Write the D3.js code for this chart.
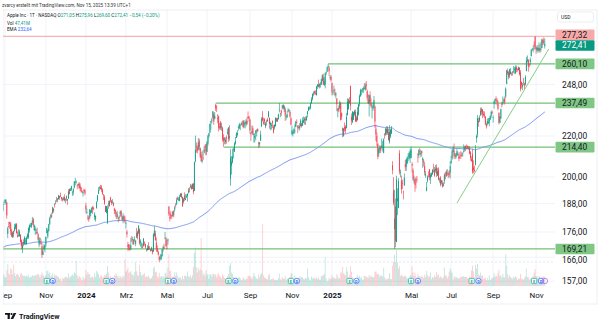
<!DOCTYPE html>
<html><head><meta charset="utf-8">
<script src="https://cdn.jsdelivr.net/npm/d3@7/dist/d3.min.js"></script>
<style>body{margin:0;background:#fff}svg{display:block}text{font-family:Roboto,"Noto Sans",sans-serif}</style>
</head><body><svg id="c" width="600" height="328"></svg>
<script>
// Daily rows per month: [open, high, low, close, volume (M)]
const m2023_08 = [[180.1,180.6,178.5,180.2,43],[179.7,184.9,179.5,184.1,53],[184.9,187.9,184.7,187.7,60],[187.8,189.1,187.5,187.9,60]];
const m2023_09 = [[189.5,189.9,188.3,189.5,45],[188.3,189.98,187.6,189.7,45],[188.4,188.85,181.5,182.9,81],[175.2,178.2,173.5,177.6,112],[178.4,180.2,177.8,178.2,65],[180.1,180.3,177.3,179.4,58],[179.5,180.1,174.8,176.3,90],[176.5,177.3,173.98,174.2,84],[174.0,176.1,173.6,175.7,60],[176.5,176.5,173.8,175.0,109],[176.5,179.4,176.2,178.0,67],[177.5,179.6,177.1,179.1,51],[179.3,179.7,175.4,175.5,59],[174.6,176.3,173.9,173.9,63],[174.7,177.1,174.1,174.8,56],[174.2,176.97,174.2,176.1,46],[174.8,175.2,171.7,172.0,64],[172.6,173.0,169.1,170.4,66],[169.3,172.0,167.6,170.7,56],[172.0,173.1,170.3,171.2,51]];
const m2023_10 = [[171.2,174.3,170.9,173.8,52],[172.3,173.6,170.8,172.4,49],[171.1,174.2,170.97,173.7,53],[173.8,175.5,173.2,174.9,48],[173.8,177.99,173.2,177.5,58],[176.8,179.05,175.8,179.0,43],[178.1,179.7,177.95,178.4,47],[178.2,179.85,177.6,179.8,47],[180.07,182.3,179.0,180.7,56],[181.4,181.9,178.1,178.9,51],[176.75,179.1,176.5,178.7,52],[176.65,178.4,174.8,177.2,57],[175.6,177.4,175.1,175.8,54],[176.0,177.8,175.2,175.5,59],[175.3,175.4,172.6,172.9,64],[170.9,174.0,169.9,173.0,55],[173.05,173.7,171.45,173.4,44],[171.9,173.1,170.8,171.1,57],[170.4,171.4,165.7,166.9,70],[166.9,168.96,166.8,168.2,58],[169.0,171.2,168.9,170.3,51],[169.35,170.9,167.9,170.8,44]];
const m2023_11 = [[171.0,174.2,170.1,174.0,56],[175.5,177.8,175.5,177.6,77],[174.2,176.8,173.35,176.7,79],[176.4,179.4,176.2,179.2,63],[179.2,182.4,179.0,181.8,70],[182.35,183.45,181.6,182.9,49],[182.96,184.1,181.8,182.4,53],[183.97,186.6,183.5,186.4,66],[185.8,186.0,184.2,184.8,43],[187.7,188.1,186.3,187.4,60],[187.85,189.5,187.8,188.0,53],[189.6,190.96,188.65,189.7,54],[190.25,190.4,188.6,189.7,50],[189.9,191.9,189.9,191.5,46],[191.4,191.5,189.7,190.6,38],[191.5,192.9,190.8,191.3,39],[190.9,190.9,189.25,190.0,24],[189.9,190.7,188.9,189.8,40],[189.8,191.1,189.4,190.4,38],[190.9,192.1,188.97,189.4,43],[189.8,190.3,188.2,190.0,48]];
const m2023_12 = [[190.3,191.6,189.2,191.2,45],[189.98,190.05,187.45,189.4,43],[190.2,194.4,190.2,193.4,66],[194.45,194.76,192.1,192.3,41],[193.6,195.0,193.6,194.3,47],[194.2,195.99,193.7,195.7,53],[193.1,193.5,191.4,193.2,60],[193.1,194.7,191.7,194.7,52],[195.1,198.0,194.85,198.0,70],[198.0,199.6,196.2,198.1,66],[197.5,198.4,197.0,197.6,128],[196.1,196.6,194.4,195.9,56],[196.2,196.95,195.9,196.9,40],[196.9,197.7,194.8,194.8,52],[196.1,197.1,193.5,194.7,46],[195.2,195.4,192.97,193.6,37],[193.6,193.9,192.8,193.05,28],[192.5,193.5,191.1,193.15,48],[194.1,194.7,193.2,193.6,34],[193.9,194.4,191.7,192.5,42]];
const m2024_01 = [[187.15,188.4,183.9,185.6,82],[184.2,185.9,183.4,184.25,58],[182.15,183.1,180.9,181.9,72],[181.99,182.8,180.2,181.2,62],[182.1,185.6,181.5,185.6,59],[183.9,185.15,182.7,185.1,42],[184.35,186.4,183.9,186.2,46],[186.5,187.05,183.6,185.6,49],[186.1,186.7,185.2,185.9,40],[182.2,184.3,180.9,183.6,65],[181.3,182.9,180.3,182.7,47],[186.1,189.1,185.8,188.6,78],[189.3,191.95,188.8,191.6,68],[192.3,195.3,192.3,193.9,60],[195.0,195.75,193.8,195.2,42],[195.4,196.4,194.3,194.5,53],[195.2,196.3,193.1,194.2,54],[194.3,194.8,191.9,192.4,44],[192.0,192.2,189.6,191.7,47],[190.9,191.8,187.5,188.0,55],[187.0,187.1,184.35,184.4,55]];
const m2024_02 = [[183.99,186.95,183.8,186.9,64],[179.9,187.3,179.25,185.85,102],[188.15,189.25,185.8,187.7,69],[186.9,189.3,186.8,189.3,43],[190.6,191.05,188.6,189.4,53],[189.4,189.5,187.35,188.3,40],[188.65,189.99,188.0,188.85,45],[188.4,188.67,186.8,187.15,41],[185.8,186.2,183.5,185.0,56],[185.3,185.5,182.4,184.15,54],[183.55,184.5,181.35,183.9,65],[183.4,184.85,181.7,182.3,49],[181.8,182.4,180.0,181.6,53],[181.9,182.9,180.7,182.3,41],[183.5,184.96,182.5,184.4,52],[185.0,185.0,182.2,182.5,45],[182.2,182.8,180.65,181.2,40],[181.1,183.9,179.6,182.6,54],[182.5,183.1,180.1,181.4,48],[181.3,182.6,179.6,180.75,136]];
const m2024_03 = [[179.6,180.5,177.4,179.7,73],[176.15,176.9,173.8,175.1,82],[170.8,172.0,168.5,170.1,95],[171.1,171.2,168.7,169.1,68],[169.15,170.7,168.5,169.0,71],[169.0,173.7,168.9,170.7,76],[172.9,174.4,172.0,172.75,60],[173.15,174.0,171.0,173.2,59],[172.8,173.2,170.8,171.1,52],[172.9,174.3,172.1,173.0,72],[171.2,172.6,170.3,172.6,121],[175.6,177.7,173.5,173.7,75],[174.3,176.6,173.0,176.1,55],[175.7,178.7,175.1,178.7,53],[177.05,177.5,170.85,171.4,106],[171.8,173.05,170.1,172.3,71],[170.6,171.9,169.45,170.85,54],[170.0,171.4,169.5,169.7,57],[170.4,173.6,170.1,173.3,60],[171.75,172.2,170.5,171.5,65]];
const m2024_04 = [[171.2,171.25,169.5,170.0,46],[169.1,169.3,168.2,168.8,49],[168.8,170.7,168.5,169.65,47],[170.3,171.9,168.8,168.8,53],[169.6,170.4,168.95,169.6,42],[169.0,169.2,168.2,168.45,37],[168.7,170.1,168.4,169.7,42],[168.8,169.1,167.1,167.8,50],[168.3,175.5,168.0,175.0,91],[174.3,178.4,174.2,176.55,101],[175.4,176.6,172.5,172.7,73],[171.75,173.8,168.2,169.4,73],[169.6,170.65,168.0,168.0,50],[168.0,168.6,166.55,167.0,43],[166.2,166.4,164.1,165.0,68],[165.5,167.3,164.8,165.8,48],[165.35,167.05,164.9,166.9,49],[166.5,169.3,166.2,169.0,48],[169.5,170.6,168.15,169.9,50],[169.9,171.3,169.2,169.3,44],[173.4,176.0,173.1,173.5,68],[173.3,174.0,170.0,170.3,65]];
const m2024_05 = [[169.6,172.7,169.1,169.3,50],[172.5,173.4,170.9,173.0,94],[186.65,187.0,182.7,183.4,163],[182.35,184.2,180.4,181.7,78],[183.45,184.9,181.3,182.4,77],[182.85,183.1,181.45,182.7,45],[182.55,184.7,182.5,184.6,48],[184.9,185.1,182.1,183.05,50],[185.4,187.1,184.6,186.3,72],[187.5,188.3,186.3,187.4,52],[187.9,190.65,187.4,189.7,70],[190.5,191.1,189.7,189.8,52],[189.5,190.8,189.2,189.9,41],[189.3,191.9,189.0,191.0,44],[191.1,192.7,190.9,192.35,42],[192.3,192.8,190.3,190.9,34],[190.98,191.0,186.6,186.9,51],[188.8,190.6,188.0,190.0,36],[191.5,193.0,189.1,190.0,52],[189.6,192.2,189.5,190.3,53],[190.8,192.2,190.6,191.3,49],[191.4,192.6,188.9,192.25,75]];
const m2024_06 = [[192.9,194.99,192.5,194.0,50],[194.6,195.3,193.0,194.35,47],[195.4,196.9,194.9,195.9,54],[195.7,196.5,194.2,194.5,42],[194.65,196.9,194.5,196.9,54],[196.9,197.3,192.15,193.1,97],[193.65,207.2,193.6,207.15,172],[207.4,220.2,206.9,213.1,198],[214.7,216.75,211.6,214.2,97],[213.85,215.2,211.3,212.5,70],[213.4,218.95,212.7,216.7,93],[217.6,218.6,212.9,214.3,79],[213.9,214.2,208.85,209.7,86],[210.4,211.9,207.1,207.5,246],[207.7,212.7,206.6,208.1,80],[209.2,211.4,207.95,209.1,56],[211.5,214.9,211.3,213.25,66],[214.7,215.7,212.35,214.1,50],[215.8,216.1,210.3,210.6,82]];
const m2024_07 = [[212.1,217.5,211.9,216.75,60],[216.15,220.4,215.1,220.3,58],[220.0,221.55,219.0,221.55,37],[221.65,226.45,221.65,226.3,61],[227.1,227.85,223.25,227.8,59],[227.9,229.4,226.4,228.7,48],[229.3,233.1,229.25,233.0,62],[231.4,232.4,225.8,227.6,64],[228.9,232.6,228.7,230.5,53],[236.5,237.23,233.1,234.4,62],[235.0,236.3,232.6,234.8,43],[229.45,231.5,226.6,228.9,57],[230.3,230.7,222.3,224.2,66],[224.8,226.8,223.3,224.3,49],[227.0,227.8,223.1,224.0,48],[224.4,226.9,222.7,225.0,39],[224.0,224.8,217.1,218.5,61],[218.9,220.85,214.6,217.5,51],[218.7,219.5,215.8,218.0,41],[216.96,219.3,215.75,218.2,36],[219.2,220.3,216.1,218.8,41],[221.4,223.8,220.6,222.1,50]];
const m2024_08 = [[224.4,224.5,217.0,218.4,62],[219.15,225.6,217.7,219.9,105],[199.1,213.5,196.0,209.3,119],[205.3,209.99,201.1,207.2,69],[206.9,213.6,206.4,209.8,63],[213.1,214.2,208.8,213.3,47],[212.1,216.8,211.97,216.2,42],[216.1,219.5,215.6,217.5,38],[219.0,221.9,219.0,221.3,44],[220.6,223.0,219.7,221.7,41],[224.6,225.35,222.8,224.7,46],[223.9,226.8,223.65,226.05,44],[225.7,225.99,223.0,225.9,40],[225.8,227.2,225.45,226.5,30],[226.5,227.98,225.05,226.4,34],[227.8,228.3,223.9,224.5,43],[225.7,228.2,224.3,226.8,38],[226.8,227.3,223.9,227.2,30],[226.0,228.85,224.9,228.0,35],[227.9,229.9,225.7,226.5,38],[230.1,232.9,228.9,229.8,51],[230.2,230.4,227.5,229.0,52]];
const m2024_09 = [[228.55,229.0,221.2,222.8,50],[221.7,221.8,217.5,220.85,43],[221.6,225.5,221.5,222.4,36],[223.95,225.2,220.4,220.8,48],[220.8,221.3,216.7,220.9,67],[218.9,221.5,216.7,220.1,52],[221.5,223.1,217.9,222.7,44],[222.5,223.55,219.8,222.8,38],[223.6,224.0,221.9,222.5,36],[216.5,217.2,213.9,216.3,59],[215.75,216.9,214.5,216.8,45],[217.55,222.7,217.5,220.7,60],[224.99,229.8,224.6,228.9,66],[229.97,233.1,227.6,228.2,318],[227.3,229.45,225.8,226.5,54],[228.65,229.35,225.7,227.4,43],[224.9,227.3,224.0,226.4,42],[227.3,228.5,225.4,227.5,36],[228.5,229.5,227.3,227.8,34],[230.0,233.0,229.65,233.0,54]];
const m2024_10 = [[229.5,229.65,223.7,226.2,63],[225.9,227.4,223.0,226.8,32],[225.1,226.8,223.3,225.7,35],[227.9,228.0,224.1,226.8,37],[224.5,225.7,221.3,221.7,39],[224.3,225.98,223.25,225.8,31],[225.2,229.75,224.8,229.5,33],[227.8,229.5,227.2,229.0,29],[229.3,229.4,227.3,227.55,31],[228.7,231.7,228.6,231.3,40],[233.6,237.49,232.4,233.85,64],[231.6,232.1,229.8,231.8,35],[233.4,233.85,230.5,232.15,33],[236.2,236.2,234.0,235.0,46],[234.45,236.85,234.45,236.5,37],[233.9,236.2,232.6,235.9,38],[234.1,235.1,227.8,230.8,52],[229.98,230.8,228.4,230.6,31],[229.7,233.2,229.55,231.4,38],[233.3,234.7,232.55,233.4,36],[233.1,234.3,232.3,233.7,36],[232.6,233.5,229.55,230.1,47],[229.3,229.8,225.4,225.9,65]];
const m2024_11 = [[220.97,225.35,220.3,222.9,65],[220.99,222.8,219.7,222.0,44],[221.8,223.95,221.1,223.45,28],[222.6,226.1,221.2,222.7,54],[224.6,227.9,224.6,227.5,42],[227.2,228.7,226.4,227.0,38],[225.0,225.7,221.5,224.2,42],[224.55,225.6,223.4,224.2,40],[224.0,226.65,222.8,225.1,48],[225.0,228.9,225.0,228.2,44],[226.4,226.9,224.3,225.0,47],[225.25,229.7,225.2,228.0,44],[226.98,230.2,226.7,228.3,36],[228.1,229.9,225.9,229.0,35],[228.9,230.2,225.7,228.5,42],[228.1,230.7,228.0,229.9,38],[231.5,233.25,229.7,232.9,90],[233.3,235.6,233.1,235.1,45],[234.5,235.7,233.8,234.9,33],[234.8,237.8,233.97,237.3,28]];
const m2024_12 = [[237.3,240.8,237.2,239.6,48],[239.8,242.8,238.9,242.65,38],[242.9,244.1,241.25,243.0,44],[243.99,244.5,242.1,243.0,40],[242.9,244.6,242.1,242.8,36],[241.8,247.2,241.75,246.75,44],[246.9,248.2,245.3,247.8,36],[247.96,250.8,246.3,246.5,45],[246.9,248.7,245.7,248.0,33],[247.8,249.3,246.2,248.1,33],[247.99,251.4,247.65,251.0,51],[250.1,253.8,249.8,253.5,51],[252.2,254.3,247.7,248.05,56],[247.5,252.0,247.1,249.8,60],[248.0,255.0,245.7,254.5,147],[254.8,255.65,253.45,255.3,40],[255.5,258.2,255.3,258.2,23],[258.2,260.1,257.6,259.0,27],[257.8,258.7,253.1,255.6,42],[252.2,253.5,250.75,252.2,35],[252.4,253.3,249.4,250.4,39]];
const m2025_01 = [[248.9,249.1,241.8,243.85,55],[243.4,244.2,241.9,243.4,40],[244.3,247.3,243.2,245.0,45],[242.98,245.55,241.35,242.2,40],[241.9,243.7,240.05,242.7,37],[240.0,240.2,233.0,236.85,61],[233.5,234.7,229.7,234.4,49],[234.75,236.1,232.5,233.3,39],[234.6,238.96,234.4,237.9,40],[237.35,238.0,228.0,228.3,71],[232.1,232.3,228.5,230.0,68],[224.0,224.4,219.4,222.6,98],[219.8,224.1,219.8,223.8,64],[224.7,227.0,222.3,223.7,60],[224.8,225.6,221.3,222.8,54],[224.0,232.15,224.0,229.9,94],[230.85,240.2,230.8,238.3,75],[234.1,239.9,234.0,239.4,45],[238.7,240.8,237.2,237.6,55],[247.2,247.2,233.4,236.0,101]];
const m2025_02 = [[229.99,231.8,225.7,228.0,73],[227.25,233.1,226.65,232.8,45],[228.5,232.7,228.3,232.5,39],[231.3,233.8,230.4,233.2,30],[232.6,234.0,227.3,227.6,39],[229.6,230.6,227.2,227.65,34],[228.2,235.2,228.1,232.6,54],[231.2,236.96,230.7,236.9,45],[236.9,242.3,235.6,241.5,53],[241.25,245.55,240.99,244.6,40],[244.15,245.2,241.8,244.5,48],[244.7,246.0,243.2,244.9,33],[244.9,246.8,243.2,245.8,32],[245.95,248.7,245.2,245.55,53],[244.9,248.9,244.4,247.1,51],[248.0,250.0,244.9,247.0,48],[244.3,244.98,239.1,240.4,45],[239.4,242.5,237.1,237.3,41],[236.95,242.1,230.2,241.8,56]];
const m2025_03 = [[241.8,244.0,236.1,238.0,47],[237.7,240.1,234.7,235.9,53],[235.4,236.55,229.2,235.7,47],[234.4,237.9,233.2,235.3,45],[235.1,241.4,234.8,239.1,46],[235.5,236.2,224.2,227.5,72],[223.8,225.8,217.45,220.8,76],[220.1,221.75,214.9,216.98,63],[215.95,216.8,208.4,209.7,61],[211.25,213.95,209.6,213.5,60],[213.3,215.2,211.5,214.0,48],[214.2,215.15,211.5,212.7,54],[214.2,218.75,213.75,215.2,54],[213.99,217.5,212.2,214.1,48],[211.55,218.8,211.3,218.3,94],[221.0,221.5,218.6,220.7,44],[220.8,224.1,220.1,223.75,34],[223.5,225.0,220.5,221.5,35],[221.4,224.99,220.6,223.85,37],[221.7,223.8,217.7,217.9,39],[217.0,225.6,216.2,222.1,65]];
const m2025_04 = [[219.8,223.7,218.9,223.2,36],[221.3,225.2,221.0,223.9,35],[205.5,207.5,201.25,203.2,104],[193.9,199.9,187.3,188.4,125],[177.2,194.15,169.21,181.5,161],[186.7,190.3,169.9,172.4,120],[171.95,200.6,171.9,198.85,184],[189.1,194.8,183.0,190.4,121],[186.1,199.5,186.0,198.15,88],[211.4,212.9,201.2,202.5,101],[201.9,203.5,199.8,202.1,51],[198.4,200.7,192.4,194.3,59],[197.2,198.8,194.4,197.0,52],[193.3,193.8,189.8,193.2,46],[196.1,201.6,195.97,199.7,52],[206.0,208.0,202.8,204.6,52],[204.9,208.8,202.9,208.4,47],[206.4,209.75,206.2,209.3,38],[210.0,211.5,207.5,210.1,38],[208.7,212.2,208.4,211.2,36],[209.3,213.6,206.7,212.5,52]];
const m2025_05 = [[209.1,214.6,208.9,213.3,57],[206.1,206.99,202.2,205.35,101],[203.1,204.1,198.2,198.9,70],[198.2,200.65,197.0,198.5,51],[199.2,199.4,193.25,196.25,69],[197.7,200.05,194.7,197.5,51],[199.0,200.5,197.5,198.5,36],[210.97,211.3,206.75,210.8,63],[210.4,213.4,209.0,212.9,51],[212.4,213.9,210.6,212.3,49],[210.95,212.96,209.5,211.45,45],[212.4,212.6,209.8,211.3,54],[207.9,209.5,204.3,208.8,46],[207.7,208.5,205.0,206.9,42],[205.2,207.0,200.7,202.1,59],[200.7,202.75,199.7,201.4,46],[193.7,197.7,193.5,195.3,78],[198.3,200.7,197.4,200.2,56],[200.6,202.7,199.9,200.4,45],[203.6,203.8,198.5,199.95,51],[199.4,201.96,196.8,200.85,70]];
const m2025_06 = [[200.3,202.1,200.1,201.7,35],[201.35,203.8,200.95,203.3,46],[202.9,206.2,202.1,202.8,43],[203.5,204.75,200.15,200.6,55],[203.0,205.7,202.05,203.9,46],[204.4,206.0,200.0,201.45,72],[200.6,204.35,200.6,202.7,54],[203.5,204.5,198.4,198.8,60],[199.1,199.7,197.4,199.2,43],[199.7,200.4,195.7,196.45,51],[197.3,198.7,196.6,198.4,43],[197.2,198.4,195.2,195.6,39],[195.9,197.6,195.6,196.6,45],[198.2,201.7,196.9,201.0,96],[201.6,202.3,198.96,201.5,55],[202.6,203.4,200.2,200.3,54],[201.45,203.7,200.6,201.6,39],[201.4,202.6,199.5,201.0,50],[201.9,203.2,200.0,201.1,73],[202.0,207.4,199.3,205.2,91]];
const m2025_07 = [[206.7,210.2,206.1,207.8,78],[208.9,213.3,208.1,212.4,67],[212.15,214.65,211.8,213.55,34],[212.7,216.2,208.8,209.95,50],[210.1,211.4,208.45,210.0,42],[209.5,211.3,208.65,211.1,48],[210.5,213.5,210.0,212.4,44],[210.6,212.1,209.9,211.2,40],[209.9,210.9,207.5,208.6,38],[209.2,211.9,208.9,209.1,42],[210.3,212.4,208.6,210.2,47],[210.6,211.8,209.6,210.0,48],[210.9,211.8,209.7,211.2,48],[212.1,215.8,211.6,212.5,51],[213.1,214.95,212.2,214.4,46],[215.0,215.15,212.4,214.15,46],[213.9,215.7,213.5,213.8,46],[214.7,215.24,213.4,213.9,40],[214.0,214.85,213.1,214.05,37],[214.2,214.8,210.8,211.3,51],[211.9,212.4,207.7,209.05,45],[208.5,209.8,207.2,207.6,80]];
const m2025_08 = [[210.9,213.6,201.5,202.4,104],[204.5,207.9,201.7,203.35,75],[203.4,205.3,202.2,202.9,45],[205.6,215.4,205.6,213.25,108],[218.9,220.85,216.6,220.0,90],[220.8,231.0,219.25,229.35,113],[227.9,229.55,224.8,227.2,61],[228.0,230.8,227.1,229.65,55],[231.1,235.0,230.4,233.3,69],[234.1,235.1,230.85,232.8,51],[234.0,234.3,229.3,231.6,56],[231.7,233.1,230.1,230.9,37],[231.3,232.9,229.4,230.6,39],[229.98,230.5,225.8,226.0,42],[226.3,226.5,223.8,224.9,30],[226.2,229.1,225.4,227.8,42],[226.5,229.3,226.2,227.2,30],[226.9,229.5,225.0,229.3,54],[228.6,230.9,228.3,230.5,31],[230.8,233.4,229.3,232.6,38],[232.5,233.4,231.4,232.1,39]];
const m2025_09 = [[229.3,230.85,226.97,229.7,44],[237.2,238.85,234.4,238.5,66],[238.45,239.9,236.7,239.8,47],[240.0,241.3,238.5,239.7,54],[239.3,240.15,236.3,237.9,48],[237.0,238.8,233.4,234.35,66],[232.2,232.4,225.95,226.8,83],[226.9,230.45,226.65,230.0,50],[229.2,234.5,229.0,234.1,55],[237.0,238.2,235.0,236.7,42],[237.2,241.2,236.3,238.15,63],[238.97,240.1,237.7,238.99,46],[239.97,241.2,236.65,237.9,44],[241.2,246.3,240.2,245.5,163],[248.3,256.6,248.1,256.1,105],[255.9,257.3,253.6,254.4,60],[255.2,255.7,251.0,252.3,42],[253.2,257.2,251.7,256.9,55],[254.1,257.6,253.8,255.5,46],[254.6,255.0,253.0,254.4,40],[254.9,255.9,253.1,254.6,37]];
const m2025_10 = [[255.0,258.8,254.9,255.45,48],[256.6,258.2,254.15,257.1,42],[254.7,259.2,253.95,258.0,49],[257.99,259.1,255.05,256.7,45],[256.8,257.4,255.4,256.5,32],[256.5,258.5,256.1,258.1,37],[257.8,258.0,253.1,254.0,38],[254.9,256.4,244.0,245.3,62],[249.4,249.7,245.6,247.7,39],[246.6,248.85,244.7,247.8,35],[249.5,251.8,247.5,249.3,33],[248.25,249.0,245.1,247.45,39],[248.0,253.4,247.3,252.3,49],[255.9,264.4,255.6,262.2,90],[261.9,265.3,261.0,262.8,46],[262.65,262.85,255.4,258.45,45],[259.9,260.6,258.0,259.6,33],[261.2,264.1,259.2,262.8,38],[264.9,269.1,264.65,268.8,44],[268.99,269.9,268.15,269.0,41],[269.3,271.4,267.1,269.7,51],[271.99,274.1,268.5,271.4,69],[276.99,277.32,269.2,270.4,86]];
const m2025_11 = [[270.4,270.85,266.25,269.05,50],[268.3,271.5,267.6,270.0,49],[268.6,271.7,266.9,270.1,43],[267.9,273.4,267.9,269.8,51],[269.8,272.3,266.8,268.5,48],[268.96,273.7,267.5,269.4,41],[269.8,275.9,269.8,275.25,46],[275.0,275.7,271.7,273.5,48],[274.1,276.7,272.1,272.95,49],[271.05,275.96,269.6,272.41,47.41]];

const monthKeys = ["2023-08","2023-09","2023-10","2023-11","2023-12","2024-01","2024-02","2024-03","2024-04","2024-05","2024-06","2024-07","2024-08","2024-09","2024-10","2024-11","2024-12","2025-01","2025-02","2025-03","2025-04","2025-05","2025-06","2025-07","2025-08","2025-09","2025-10","2025-11"];
const monthRows = [m2023_08,m2023_09,m2023_10,m2023_11,m2023_12,m2024_01,m2024_02,m2024_03,m2024_04,m2024_05,m2024_06,m2024_07,m2024_08,m2024_09,m2024_10,m2024_11,m2024_12,m2025_01,m2025_02,m2025_03,m2025_04,m2025_05,m2025_06,m2025_07,m2025_08,m2025_09,m2025_10,m2025_11];
const holidays = ["2023-09-04","2023-11-23","2023-12-25","2024-01-01","2024-01-15","2024-02-19","2024-03-29","2024-05-27","2024-06-19","2024-07-04","2024-09-02","2024-11-28","2024-12-25","2025-01-01","2025-01-09","2025-01-20","2025-02-17","2025-04-18","2025-05-26","2025-06-19","2025-07-04","2025-09-01"];

// x-axis labels (month key -> text)
const tickMonths = ["2023-09","2023-11","2024-01","2024-03","2024-05","2024-07","2024-09","2024-11","2025-01","2025-05","2025-07","2025-09","2025-11"];
const tickLabels = ["Sep","Nov","2024","Mrz","Mai","Jul","Sep","Nov","2025","Mai","Jul","Sep","Nov"];
const boldTicks = ["2024","2025"];
const priceTicks = [157,166,176,188,200,220,248];

// drawings
const levelPrices = [260.10,237.49,214.40,169.21];
const levelStart = ["2024-12-26","2024-07-15","2024-07-25",null];
const athPrice = 277.32;
const trendDates = ["2025-07-10", 4];      // start date, end = bars after last
const trendPrices = [188.3, 269.3];
const earningsDates = ["2023-11-02","2024-02-01","2024-05-02","2024-08-01","2024-10-31","2025-01-30","2025-05-01","2025-07-31","2025-10-30"];
const dividendDates = ["2023-11-10","2024-02-09","2024-05-10","2024-08-12","2024-11-08","2025-02-10","2025-05-12","2025-08-11","2025-11-10"];
const emaPeriod = 200, emaSeed = 169.5, emaLegend = 232.64;
const legendTitle = "Apple Inc · 1T · NASDAQ";
const headerText = "zvarcy erstellt mit TradingView.com, Nov 15, 2025 13:39 UTC+1";

// ---- build bars
const bars = [];
monthKeys.forEach((mk, mi) => {
  const rows = monthRows[mi];
  const [yy, mm] = mk.split("-").map(Number);
  const days = [];
  for (let d = 1; d <= 31; d++) {
    const dt = new Date(Date.UTC(yy, mm - 1, d));
    if (dt.getUTCMonth() !== mm - 1) break;
    const wd = dt.getUTCDay(), iso = dt.toISOString().slice(0, 10);
    if (wd === 0 || wd === 6 || holidays.includes(iso)) continue;
    days.push(iso);
  }
  const ds = mi === 0 ? days.slice(days.length - rows.length) : days.slice(0, rows.length);
  rows.forEach((r, k) => bars.push({date: ds[k] || (mk + "-xx"), month: mk, o: r[0], h: r[1], l: r[2], c: r[3], v: r[4]}));
});
bars.forEach((b, i) => b.i = i);
const idxOfDate = d => { const b = bars.find(b => b.date >= d); return b ? b.i : bars.length - 1; };
const firstIdxOfMonth = mk => bars.findIndex(b => b.month === mk);

const up = "#089981", dn = "#f23645";
const svg = d3.select("#c");
const W = 600, H = 328;
const plot = {l: 3, r: 555, t: 10, b: 287};

const x = d3.scaleLinear().domain([-0.5, bars.length - 1 + 10.4]).range([0.5, plot.r]);
const y = d3.scaleLog().domain([154.9, 294.8]).range([plot.b, plot.t]);
const vy = d3.scaleLinear().domain([0, d3.max(bars, b => b.v)]).range([286, 224]);
const fmt = v => v.toFixed(2).replace(".", ",");

svg.append("rect").attr("width", W).attr("height", H).attr("fill", "#fff");
svg.append("defs").append("clipPath").attr("id", "pc").append("rect")
  .attr("x", plot.l).attr("y", plot.t).attr("width", plot.r - plot.l).attr("height", plot.b - plot.t);

// grid
const g = svg.append("g").attr("clip-path", "url(#pc)");
const tickIdx = tickMonths.map(firstIdxOfMonth);
g.selectAll(".vg").data(tickIdx).join("line").attr("x1", d => x(d)).attr("x2", d => x(d))
  .attr("y1", plot.t).attr("y2", plot.b).attr("stroke", "#f0f3fa").attr("stroke-width", 1);
g.selectAll(".hg").data(priceTicks).join("line").attr("x1", plot.l).attr("x2", plot.r)
  .attr("y1", d => y(d)).attr("y2", d => y(d)).attr("stroke", "#f0f3fa").attr("stroke-width", 1);
g.append("line").attr("x1", plot.l).attr("x2", plot.r).attr("y1", 262).attr("y2", 262)
  .attr("stroke", "#d6d9e0").attr("stroke-width", 0.6).attr("stroke-dasharray", "2,2");

// volume
g.selectAll(".vol").data(bars).join("rect")
  .attr("x", b => x(b.i) - 0.4).attr("width", 0.8)
  .attr("y", b => vy(b.v)).attr("height", b => 286 - vy(b.v))
  .attr("fill", b => b.c >= b.o ? up : dn).attr("opacity", 0.28);

// ath line
g.append("line").attr("x1", plot.l).attr("x2", plot.r).attr("y1", y(athPrice)).attr("y2", y(athPrice))
  .attr("stroke", "#f5a2a2").attr("stroke-width", 1);

// levels
const lvColor = "#72c176";
levelPrices.forEach((p, k) => {
  const x0 = levelStart[k] ? x(idxOfDate(levelStart[k])) : plot.l;
  g.append("line").attr("x1", x0).attr("x2", plot.r).attr("y1", y(p)).attr("y2", y(p))
    .attr("stroke", lvColor).attr("stroke-width", 1.3);
});

// EMA
let e = emaSeed;
const ema = bars.map((b, i) => (e = i === 0 ? emaSeed : e + 2 / (emaPeriod + 1) * (b.c - e)));
g.append("path").datum(ema).attr("fill", "none").attr("stroke", "#7b98f2").attr("stroke-width", 1)
  .attr("d", d3.line().x((d, i) => x(i)).y(d => y(d)));

// candles
const cg = g.append("g");
cg.selectAll(".wk").data(bars).join("rect")
  .attr("x", b => x(b.i) - 0.3).attr("width", 0.6)
  .attr("y", b => y(b.h)).attr("height", b => Math.max(0.5, y(b.l) - y(b.h)))
  .attr("fill", b => b.c >= b.o ? up : dn);
cg.selectAll(".bd").data(bars).join("rect")
  .attr("x", b => x(b.i) - 0.4).attr("width", 0.8)
  .attr("y", b => y(Math.max(b.o, b.c))).attr("height", b => Math.max(0.6, Math.abs(y(b.o) - y(b.c))))
  .attr("fill", b => b.c >= b.o ? up : dn);

// trendline
const ti0 = idxOfDate(trendDates[0]), ti1 = bars.length - 1 + trendDates[1];
svg.append("line").attr("x1", x(ti0)).attr("y1", y(trendPrices[0])).attr("x2", x(ti1)).attr("y2", y(trendPrices[1]))
  .attr("stroke", "#86cf86").attr("stroke-width", 1);

// events E / D
const ev = svg.append("g");
earningsDates.forEach(d => {
  const cx = x(idxOfDate(d));
  ev.append("rect").attr("x", cx - 2.6).attr("y", 278.4).attr("width", 5.2).attr("height", 5.2).attr("rx", 1)
    .attr("fill", "#fff").attr("stroke", "#22ab94").attr("stroke-width", 0.7);
  ev.append("text").attr("x", cx).attr("y", 282.6).attr("text-anchor", "middle").attr("font-size", 4)
    .attr("fill", "#22ab94").attr("font-weight", 700).text("E");
});
dividendDates.forEach((d, k) => {
  const cx = x(idxOfDate(d));
  ev.append("circle").attr("cx", cx).attr("cy", 281).attr("r", 2.7)
    .attr("fill", "#fff").attr("stroke", "#2962ff").attr("stroke-width", 0.7);
  ev.append("text").attr("x", cx).attr("y", 282.6).attr("text-anchor", "middle").attr("font-size", 4)
    .attr("fill", "#2962ff").attr("font-weight", 700).text("D");
  if (k === dividendDates.length - 1) {
    ev.append("circle").attr("cx", cx + 4).attr("cy", 281).attr("r", 2.7)
      .attr("fill", "none").attr("stroke", "#b05ad6").attr("stroke-width", 0.7);
  }
});

// price axis
const ax = svg.append("g").attr("transform", `translate(${plot.r},0)`)
  .call(d3.axisRight(y).tickValues(priceTicks).tickFormat(fmt).tickSize(0).tickPadding(7));
ax.select(".domain").remove();
ax.selectAll("text").attr("font-size", 8.4).attr("fill", "#131722").attr("font-family", "Roboto")
  .attr("dy", d => d === 166 ? "0.62em" : "0.32em");

// USD label
svg.append("rect").attr("x", 557.5).attr("y", 12).attr("width", 36).attr("height", 10).attr("rx", 2)
  .attr("fill", "#fff").attr("stroke", "#e0e3eb").attr("stroke-width", 0.6);
svg.append("text").attr("x", 561).attr("y", 19).attr("font-size", 5).attr("fill", "#131722").text("USD");

// price label boxes
const last = bars[bars.length - 1];
const boxes = [
  {p: athPrice, bg: "#f7a9a9", fg: "#131722"},
  {p: last.c, bg: up, fg: "#ffffff"},
  ...levelPrices.map(p => ({p, bg: "#80c684", fg: "#131722"}))
];
boxes.forEach(b => b.cy = y(b.p));
boxes.sort((a, b) => a.cy - b.cy);
const bh = 10.6;
for (let k = 1; k < boxes.length; k++) {
  const gap = boxes[k].cy - boxes[k - 1].cy;
  if (gap < bh) { const d = (bh - gap) / 2; boxes[k - 1].cy -= d; boxes[k].cy += d; }
}
boxes.forEach(b => {
  svg.append("rect").attr("x", 555.5).attr("y", b.cy - bh / 2).attr("width", 39).attr("height", bh).attr("rx", 1)
    .attr("fill", b.bg);
  svg.append("text").attr("x", 562).attr("y", b.cy + 3).attr("font-size", 8.4).attr("fill", b.fg)
    .attr("font-family", "Roboto").text(fmt(b.p));
});

// x axis
const xa = svg.append("g").attr("transform", `translate(0,${plot.b})`)
  .call(d3.axisBottom(x).tickValues(tickIdx).tickFormat((d, k) => tickLabels[k]).tickSize(0).tickPadding(5));
xa.select(".domain").remove();
xa.selectAll("text").attr("font-size", 8).attr("fill", "#131722").attr("font-family", "Roboto")
  .attr("font-weight", (d, k) => boldTicks.includes(tickLabels[k]) ? 700 : 400);

// frame
svg.append("rect").attr("x", 3).attr("y", 10).attr("width", 594).attr("height", 294)
  .attr("fill", "none").attr("stroke", "#e0e3eb").attr("stroke-width", 0.6);
svg.append("rect").attr("x", 0).attr("y", 0).attr("width", 3).attr("height", 304).attr("fill", "#fff");

// header
svg.append("text").attr("x", 2).attr("y", 6.5).attr("font-size", 4.6).attr("fill", "#333").text(headerText);
const prev = bars[bars.length - 2];
const chg = last.c - prev.c, pct = chg / prev.c * 100;
const sgn = v => (v < 0 ? "\u2212" : "+") + fmt(Math.abs(v));
const lg = svg.append("text").attr("x", 7).attr("y", 17).attr("font-size", 4.6).attr("fill", "#131722");
lg.append("tspan").text(legendTitle + "  ");
[["O", last.o], ["H", last.h], ["L", last.l], ["C", last.c]].forEach(([k, v]) => {
  lg.append("tspan").text(" " + k);
  lg.append("tspan").attr("fill", up).text(fmt(v));
});
lg.append("tspan").attr("fill", up).text(" " + sgn(chg) + " (" + sgn(pct) + "%)");
const l2 = svg.append("text").attr("x", 7).attr("y", 24.5).attr("font-size", 4.6).attr("fill", "#131722");
l2.append("tspan").text("Vol ");
l2.append("tspan").attr("fill", up).text(fmt(last.v) + "M");
const l3 = svg.append("text").attr("x", 7).attr("y", 31).attr("font-size", 4.6).attr("fill", "#131722");
l3.append("tspan").text("EMA ");
l3.append("tspan").attr("fill", "#2962ff").text(fmt(emaLegend));

// TradingView logo
const lgG = svg.append("g").attr("fill", "#131722");
lgG.append("rect").attr("x", 5).attr("y", 313).attr("width", 5).attr("height", 1.8);
lgG.append("rect").attr("x", 7.6).attr("y", 313).attr("width", 2.2).attr("height", 6);
lgG.append("circle").attr("cx", 11.5).attr("cy", 314).attr("r", 1.1);
lgG.append("path").attr("d", "M13.6,313 L16.3,313 L13.2,319 L10.6,319 Z");
svg.append("text").attr("x", 19).attr("y", 319).attr("font-size", 7.2).attr("font-weight", 700)
  .attr("fill", "#131722").text("TradingView");
</script></body></html>
